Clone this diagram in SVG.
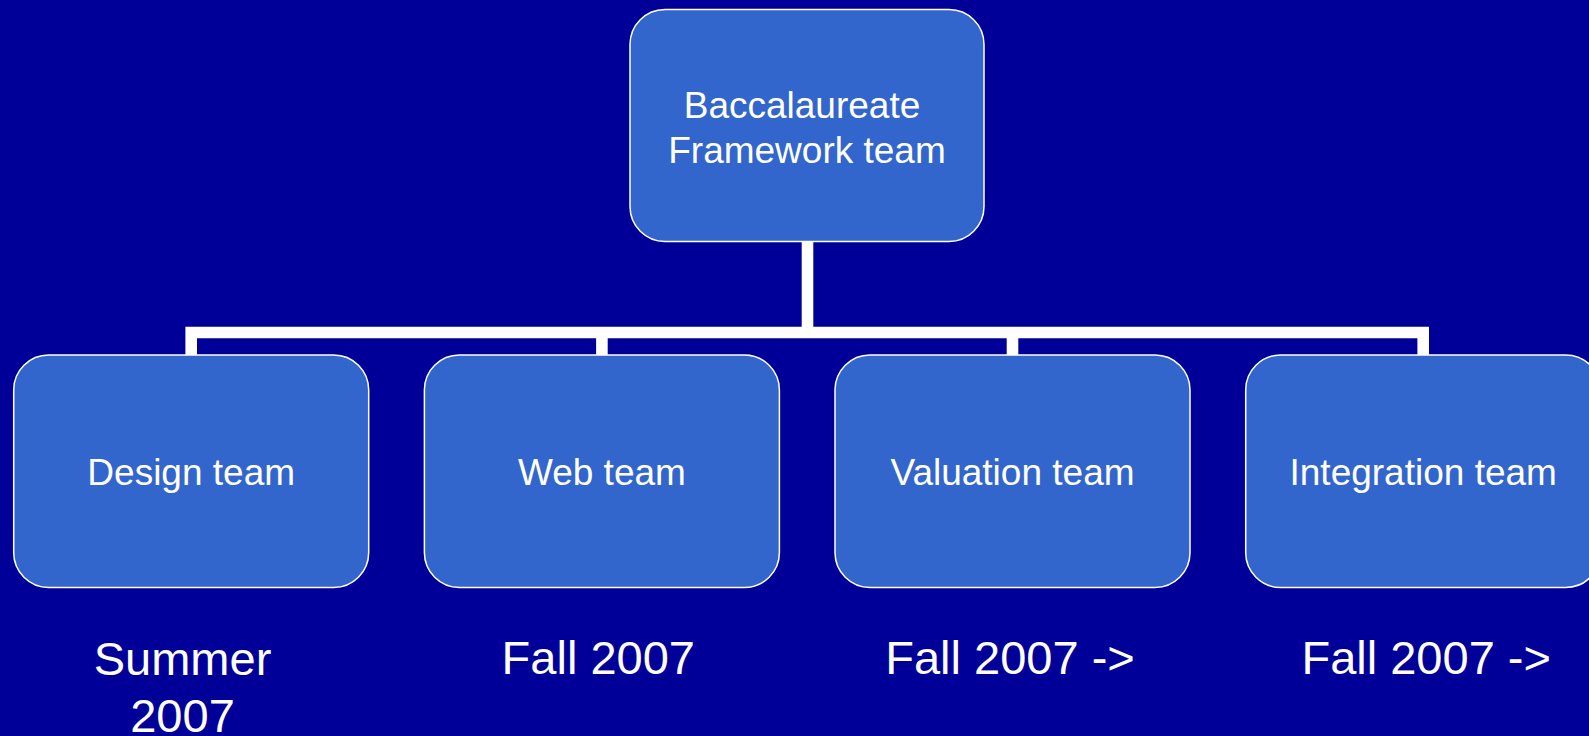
<svg xmlns="http://www.w3.org/2000/svg" width="1589" height="736" viewBox="0 0 1589 736">
<style>
.node{fill:#3366CC;stroke:#FFFFFF;stroke-width:1.5}
.lbl{font-family:"Liberation Sans",Arial,sans-serif;font-size:37px;fill:#FFFFFF;text-anchor:middle}
.date{font-family:"Liberation Sans",Arial,sans-serif;font-size:47px;fill:#FFFFFF;text-anchor:middle}
.conn{fill:none;stroke:#FFFFFF;stroke-width:11.6;stroke-linecap:butt;stroke-linejoin:miter}
</style>
<rect x="0" y="0" width="1589" height="736" fill="#000099"/>
<g id="connectors">
<path class="conn" d="M807.5 241.7 V332.5"/>
<path class="conn" d="M191.2 355 V332.5 H1423.2 V355"/>
<path class="conn" d="M601.9 332.5 V355"/>
<path class="conn" d="M1012.5 332.5 V355"/>
</g>
<g id="node-top">
<rect class="node" x="630" y="9.5" width="354" height="232" rx="35" ry="35"/>
<text class="lbl" x="802" y="118">Baccalaureate</text>
<text class="lbl" x="807" y="163">Framework team</text>
</g>
<g id="node-design">
<rect class="node" x="13.7" y="355" width="355" height="232.5" rx="35" ry="35"/>
<text class="lbl" x="191.2" y="485">Design team</text>
</g>
<g id="node-web">
<rect class="node" x="424.4" y="355" width="355" height="232.5" rx="35" ry="35"/>
<text class="lbl" x="601.9" y="485">Web team</text>
</g>
<g id="node-valuation">
<rect class="node" x="835" y="355" width="355" height="232.5" rx="35" ry="35"/>
<text class="lbl" x="1012.5" y="485">Valuation team</text>
</g>
<g id="node-integration">
<rect class="node" x="1245.7" y="355" width="355" height="232.5" rx="35" ry="35"/>
<text class="lbl" x="1423.2" y="485">Integration team</text>
</g>
<g id="dates">
<text class="date" x="182.5" y="675">Summer</text>
<text class="date" x="182.5" y="732">2007</text>
<text class="date" x="598.3" y="674">Fall 2007</text>
<text class="date" x="1010" y="674">Fall 2007 -&gt;</text>
<text class="date" x="1426.2" y="674">Fall 2007 -&gt;</text>
</g>
</svg>
